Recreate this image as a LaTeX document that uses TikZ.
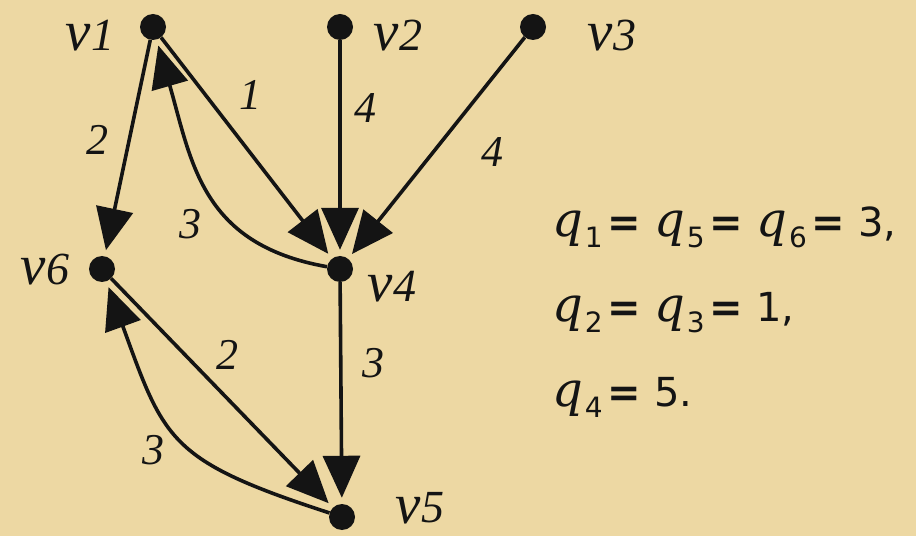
\RequirePackage{fix-cm}
\documentclass[tikz,border=0pt]{standalone}
\usepackage{fontspec}
\newfontfamily\grserif{Liberation Serif}
\newfontfamily\grqfont{DejaVu Serif}
\newfontfamily\grdigit{DejaVu Sans}
\usetikzlibrary{arrows.meta}
\definecolor{grInk}{HTML}{141414}
\definecolor{grParch}{HTML}{EDD8A3}
\newcommand{\grvname}[1]{\smash{\fontsize{57}{57}\selectfont v}{\fontsize{46}{46}\selectfont #1}}
\newcommand{\grq}[1]{{\grqfont\itshape\fontsize{48}{48}\selectfont q}\kern2pt\raisebox{-11pt}{\fontsize{28}{28}\selectfont #1}}
\newcommand{\greq}{\kern5pt{\bfseries=}\kern13pt}
\tikzset{
  gr vertex/.style={circle, fill=grInk, minimum size=26pt, inner sep=0pt},
  gr edge/.style={draw=grInk, line width=3.6pt, -{Triangle[length=42pt, width=37pt]}, shorten >=6pt},
  gr name/.style={font=\grserif\itshape, text=grInk, inner sep=0pt, anchor=base},
  gr weight/.style={font=\grserif\itshape\fontsize{44}{44}\selectfont, text=grInk, inner sep=0pt},
  gr formula/.style={anchor=base west, text=grInk, inner sep=0pt, font=\grdigit\fontsize{40}{40}\selectfont},
}

\begin{document}
\begin{tikzpicture}[x=1pt, y=1pt]
  % Parchment background, also fixes the bounding box
  \fill[grParch] (0,0) rectangle (916,536);
  \useasboundingbox (0,0) rectangle (916,536);
  % Vertices
  \node[gr vertex] (v1) at (153,509) {};
  \node[gr vertex] (v2) at (340,509) {};
  \node[gr vertex] (v3) at (533,509) {};
  \node[gr vertex] (v4) at (340,267) {};
  \node[gr vertex] (v6) at (102,267) {};
  \node[gr vertex] (v5) at (342,19) {};
  % Vertex names
  \node[gr name] (n1) at (90,485) {\grvname{1}};
  \node[gr name] (n2) at (398,485) {\grvname{2}};
  \node[gr name] (n3) at (612,485) {\grvname{3}};
  \node[gr name] (n4) at (392,234) {\grvname{4}};
  \node[gr name] (n5) at (420,13) {\grvname{5}};
  \node[gr name] (n6) at (45,251) {\grvname{6}};
  % Arcs
  \draw[gr edge] (v1) -- (v6);
  \draw[gr edge] (v1) -- (v4);
  \draw[gr edge] (v4) to[out=170, in=-74, looseness=1.15] (v1);
  \draw[gr edge] (v2) -- (v4);
  \draw[gr edge] (v3) -- (v4);
  \draw[gr edge] (v4) -- (v5);
  \draw[gr edge] (v6) -- (v5);
  \draw[gr edge] (v5) to[out=162, in=-70, looseness=1.35] (v6);
  % Arc weights
  \node[gr weight] (w14) at (250,441) {1};
  \node[gr weight] (w24) at (365,428) {4};
  \node[gr weight] (w34) at (492,384) {4};
  \node[gr weight] (w16) at (97,396) {2};
  \node[gr weight] (w41) at (190,312) {3};
  \node[gr weight] (w65) at (227,181) {2};
  \node[gr weight] (w56) at (153,86) {3};
  \node[gr weight] (w45) at (373,173) {3};
  % Vertex costs
  \node[gr formula] (q1) at (552,299) {\grq{1}\greq\grq{5}\greq\grq{6}\greq 3,};
  \node[gr formula] (q2) at (552,214) {\grq{2}\greq\grq{3}\greq 1,};
  \node[gr formula] (q3) at (552,129) {\grq{4}\greq 5.};
\end{tikzpicture}
\end{document}
